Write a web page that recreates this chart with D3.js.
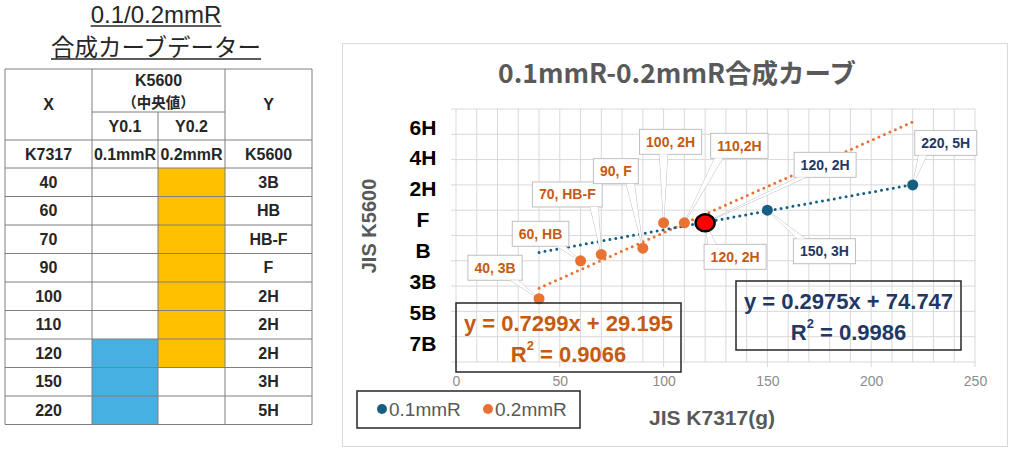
<!DOCTYPE html>
<html><head><meta charset="utf-8">
<script src="https://cdn.jsdelivr.net/npm/d3@7"></script>
<style>html,body{margin:0;padding:0;background:#fff;}svg{display:block;}</style>
</head><body>
<svg id="c" width="1024" height="453"></svg>
<script>
// ---------- data ----------
const series01X = [120, 150, 220];
const series01Y = [110, 120, 140];
const series01Labels = ['120, 2H', '150, 3H', '220, 5H'];
const series02X = [40, 60, 70, 90, 100, 110, 120];
const series02Y = [50, 80, 85, 90, 110, 110, 110];
const series02Labels = ['40, 3B', '60, HB', '70, HB-F', '90, F', '100, 2H', '110,2H', '120, 2H'];
const highlightX = [120];
const highlightY = [110];
const trend01 = [0.2975, 74.747, 0.9986]; // slope, intercept, R2
const trend02 = [0.7299, 29.195, 0.9066];
const trendRange = [40, 220];
const xTicks = [0, 50, 100, 150, 200, 250];
const yGradeLabels = ['6H', '4H', '2H', 'F', 'B', '3B', '5B', '7B'];
const seriesNames = ['0.1mmR', '0.2mmR'];
// table data
const tableX = [40, 60, 70, 90, 100, 110, 120, 150, 220];
const tableGrade = ['3B', 'HB', 'HB-F', 'F', '2H', '2H', '2H', '3H', '5H'];

// ---------- layout / style ----------
const LAT = "'Liberation Sans', Arial, sans-serif";
const JP = "'Noto Sans CJK JP', 'Liberation Sans', sans-serif";
const C_BLUE = '#156082', C_ORANGE = '#E97132';
const C_OTXT = '#C55A11', C_BTXT = '#1F3864';
// callout label offsets (px) relative to point
const off01 = [[120, -58], [57, 41], [33, -42]];
const off02 = [[-44, -31], [-40, -27], [-34, -60], [-27, -77], [7, -81], [55, -77], [30, 34]];

const svg = d3.select('#c');

// ================= TABLE =================
const tg = svg.append('g');
function uText(x, y, txt, size, font, uy) {
  const t = tg.append('text').attr('x', x).attr('y', y).attr('text-anchor', 'middle')
    .attr('font-family', font).attr('font-size', size).attr('fill', '#262626').text(txt);
  const w = t.node().getComputedTextLength();
  tg.append('line').attr('x1', x - w / 2).attr('x2', x + w / 2).attr('y1', y + uy).attr('y2', y + uy)
    .attr('stroke', '#262626').attr('stroke-width', 1.6);
}
uText(156, 23, '0.1/0.2mmR', 24, LAT, 3);
uText(156, 56, '合成カーブデーター', 23.5, JP, 3);

const colX = [5, 92, 158, 225, 312];
const hdrY = [69, 112, 140, 168];
const rowH = 28.5;
const rowY = d3.range(tableX.length + 1).map(i => hdrY[3] + i * rowH);
// fills
tableX.forEach((v, i) => {
  if (series02X.includes(v)) tg.append('rect').attr('x', colX[2]).attr('y', rowY[i]).attr('width', colX[3] - colX[2]).attr('height', rowH).attr('fill', '#FFC000');
  if (series01X.includes(v)) tg.append('rect').attr('x', colX[1]).attr('y', rowY[i]).attr('width', colX[2] - colX[1]).attr('height', rowH).attr('fill', '#45B0E1');
});
const gridC = '#7f7f7f';
function tl(x1, y1, x2, y2) { tg.append('line').attr('x1', x1).attr('y1', y1).attr('x2', x2).attr('y2', y2).attr('stroke', gridC).attr('stroke-width', 1); }
const tableBottom = rowY[rowY.length - 1];
tl(colX[0], hdrY[0], colX[0], tableBottom);
tl(colX[1], hdrY[0], colX[1], tableBottom);
tl(colX[2], hdrY[1], colX[2], tableBottom);
tl(colX[3], hdrY[0], colX[3], tableBottom);
tl(colX[4], hdrY[0], colX[4], tableBottom);
tl(colX[0], hdrY[0], colX[4], hdrY[0]);
tl(colX[1], hdrY[1], colX[3], hdrY[1]);
tl(colX[0], hdrY[2], colX[4], hdrY[2]);
rowY.forEach(y => tl(colX[0], y, colX[4], y));

function cell(x, y, txt, font, size) {
  tg.append('text').attr('x', x).attr('y', y).attr('text-anchor', 'middle').attr('dominant-baseline', 'central')
    .attr('font-family', font || LAT).attr('font-size', size || 16).attr('font-weight', 700).attr('fill', '#262626').text(txt);
}
const mid = (a, b) => (a + b) / 2;
cell(mid(colX[0], colX[1]), mid(hdrY[0], hdrY[2]), 'X');
cell(mid(colX[1], colX[3]), 80, 'K5600');
cell(mid(colX[1], colX[3]), 101.5, '（中央値）', JP, 14.5);
cell(mid(colX[3], colX[4]), mid(hdrY[0], hdrY[2]), 'Y');
cell(mid(colX[1], colX[2]), mid(hdrY[1], hdrY[2]), 'Y0.1');
cell(mid(colX[2], colX[3]), mid(hdrY[1], hdrY[2]), 'Y0.2');
const sub = ['K7317', seriesNames[0], seriesNames[1], 'K5600'];
sub.forEach((s, i) => cell(mid(colX[i], colX[i + 1]), mid(hdrY[2], hdrY[3]), s));
tableX.forEach((v, i) => {
  cell(mid(colX[0], colX[1]), rowY[i] + rowH / 2, v);
  cell(mid(colX[3], colX[4]), rowY[i] + rowH / 2, tableGrade[i]);
});

// ================= CHART =================
const cg = svg.append('g');
cg.append('rect').attr('x', 342.5).attr('y', 43.5).attr('width', 665).attr('height', 403)
  .attr('fill', '#fff').attr('stroke', '#d9d9d9');

const x = d3.scaleLinear().domain([0, 250]).range([456, 975]);
const y = d3.scaleLinear().domain([0, 200]).range([362, 109]);

// gridlines
cg.append('g').selectAll('line').data(d3.range(0, 251, 10)).join('line')
  .attr('x1', d => x(d)).attr('x2', d => x(d)).attr('y1', y(0)).attr('y2', y(200))
  .attr('stroke', '#d9d9d9').attr('stroke-width', 1);
cg.append('g').selectAll('line').data(d3.range(0, 201, 20)).join('line')
  .attr('x1', x(0) - 5).attr('x2', x(250)).attr('y1', d => y(d)).attr('y2', d => y(d))
  .attr('stroke', '#d9d9d9').attr('stroke-width', 1);
cg.append('g').selectAll('line').data(xTicks).join('line')
  .attr('x1', d => x(d)).attr('x2', d => x(d)).attr('y1', y(0)).attr('y2', y(0) + 5)
  .attr('stroke', '#d9d9d9');

// x axis labels
const xAxis = d3.axisBottom(x).tickValues(xTicks).tickSize(0).tickPadding(14);
const xa = cg.append('g').attr('transform', `translate(0,${y(0)})`).call(xAxis);
xa.select('.domain').remove();
xa.selectAll('text').attr('font-family', LAT).attr('font-size', 14).attr('fill', '#8c8c8c');

// y grade labels
const yl = d3.scalePoint().domain(yGradeLabels).range([127, 343]);
cg.append('g').selectAll('text').data(yGradeLabels).join('text')
  .attr('x', 423).attr('y', d => yl(d)).attr('text-anchor', 'middle').attr('dominant-baseline', 'central')
  .attr('font-family', LAT).attr('font-size', 21).attr('font-weight', 700).attr('fill', '#000').text(d => d);

// titles
cg.append('text').attr('x', 677).attr('y', 83).attr('text-anchor', 'middle')
  .attr('font-family', JP).attr('font-size', 26.5).attr('font-weight', 700).attr('fill', '#595959')
  .text('0.1mmR-0.2mmR合成カーブ');
cg.append('text').attr('transform', 'translate(369,226) rotate(-90)').attr('text-anchor', 'middle')
  .attr('dominant-baseline', 'central').attr('font-family', LAT).attr('font-size', 20).attr('font-weight', 700)
  .attr('fill', '#595959').text('JIS K5600');
cg.append('text').attr('x', 712).attr('y', 417).attr('text-anchor', 'middle').attr('dominant-baseline', 'central')
  .attr('font-family', LAT).attr('font-size', 21).attr('font-weight', 700).attr('fill', '#595959').text('JIS K7317(g)');

// trendlines
function trend(coef, color) {
  const line = d3.line().x(d => x(d)).y(d => y(coef[0] * d + coef[1]));
  cg.append('path').attr('d', line(trendRange)).attr('fill', 'none').attr('stroke', color)
    .attr('stroke-width', 3).attr('stroke-linecap', 'round').attr('stroke-dasharray', '0 6');
}
trend(trend02, C_ORANGE);
trend(trend01, C_BLUE);

// callouts
function callout(px, py, cx, cy, txt, color) {
  const g = cg.append('g');
  const t = g.append('text').attr('x', cx).attr('y', cy).attr('text-anchor', 'middle').attr('dominant-baseline', 'central')
    .attr('font-family', LAT).attr('font-size', 14).attr('font-weight', 700).attr('fill', color).text(txt);
  const w = t.node().getComputedTextLength() + 13, h = 25;
  const x0 = cx - w / 2, x1 = cx + w / 2, y0 = cy - h / 2, y1 = cy + h / 2;
  let b1, b2;
  const hw = 4;
  if (py > y1) { const bx = Math.max(x0 + 8, Math.min(x1 - 8, px)); b1 = [bx - hw, y1]; b2 = [bx + hw, y1]; }
  else if (py < y0) { const bx = Math.max(x0 + 8, Math.min(x1 - 8, px)); b1 = [bx - hw, y0]; b2 = [bx + hw, y0]; }
  else if (px < x0) { b1 = [x0, cy - hw]; b2 = [x0, cy + hw]; }
  else { b1 = [x1, cy - hw]; b2 = [x1, cy + hw]; }
  g.insert('path', 'text').attr('d', `M${b1}L${px},${py}L${b2}Z`).attr('fill', '#fff').attr('stroke', '#bfbfbf').attr('stroke-width', 1);
  g.insert('rect', 'text').attr('x', x0).attr('y', y0).attr('width', w).attr('height', h)
    .attr('fill', '#fff').attr('stroke', '#bfbfbf').attr('stroke-width', 1);
  g.insert('path', 'text').attr('d', `M${b1}L${px},${py}L${b2}Z`).attr('fill', '#fff').attr('stroke', 'none');
}
series02X.forEach((v, i) => callout(x(v), y(series02Y[i]), x(v) + off02[i][0], y(series02Y[i]) + off02[i][1], series02Labels[i], C_OTXT));
series01X.forEach((v, i) => callout(x(v), y(series01Y[i]), x(v) + off01[i][0], y(series01Y[i]) + off01[i][1], series01Labels[i], C_BTXT));

// points
cg.append('g').selectAll('circle').data(series02X).join('circle')
  .attr('cx', d => x(d)).attr('cy', (d, i) => y(series02Y[i])).attr('r', 5.5).attr('fill', C_ORANGE);
cg.append('g').selectAll('circle').data(series01X).join('circle')
  .attr('cx', d => x(d)).attr('cy', (d, i) => y(series01Y[i])).attr('r', 5.5).attr('fill', C_BLUE);
cg.append('g').selectAll('ellipse').data(highlightX).join('ellipse')
  .attr('cx', d => x(d)).attr('cy', (d, i) => y(highlightY[i])).attr('rx', 9.5).attr('ry', 8.5)
  .attr('fill', '#ff0000').attr('stroke', '#000').attr('stroke-width', 2.5);

// equation boxes
function eqBox(bx, by, bw, bh, coef, color) {
  cg.append('rect').attr('x', bx).attr('y', by).attr('width', bw).attr('height', bh)
    .attr('fill', 'none').attr('stroke', '#262626').attr('stroke-width', 1.5);
  cg.append('text').attr('x', bx + bw / 2).attr('y', by + bh * 0.3).attr('text-anchor', 'middle').attr('dominant-baseline', 'central')
    .attr('font-family', LAT).attr('font-size', 22).attr('font-weight', 700).attr('fill', color)
    .text(`y = ${coef[0]}x + ${coef[1]}`);
  const t = cg.append('text').attr('x', bx + bw / 2).attr('y', by + bh * 0.74).attr('text-anchor', 'middle').attr('dominant-baseline', 'central')
    .attr('font-family', LAT).attr('font-size', 22).attr('font-weight', 700).attr('fill', color);
  t.append('tspan').text('R');
  t.append('tspan').attr('font-size', 13).attr('dy', -9).text('2');
  t.append('tspan').attr('dy', 9).text(` = ${coef[2]}`);
}
eqBox(456, 303, 225, 69, trend02, C_OTXT);
eqBox(736, 281, 225, 69, trend01, C_BTXT);

// legend
const lg = cg.append('g');
lg.append('rect').attr('x', 357).attr('y', 391).attr('width', 223).attr('height', 37)
  .attr('fill', '#fff').attr('stroke', '#262626').attr('stroke-width', 1.5);
[[C_BLUE, 382], [C_ORANGE, 488]].forEach(([c, lx], i) => {
  lg.append('circle').attr('cx', lx).attr('cy', 409).attr('r', 5).attr('fill', c);
  lg.append('text').attr('x', lx + 7).attr('y', 409).attr('dominant-baseline', 'central')
    .attr('font-family', LAT).attr('font-size', 19).attr('fill', '#595959').text(seriesNames[i]);
});
</script>
</body></html>
